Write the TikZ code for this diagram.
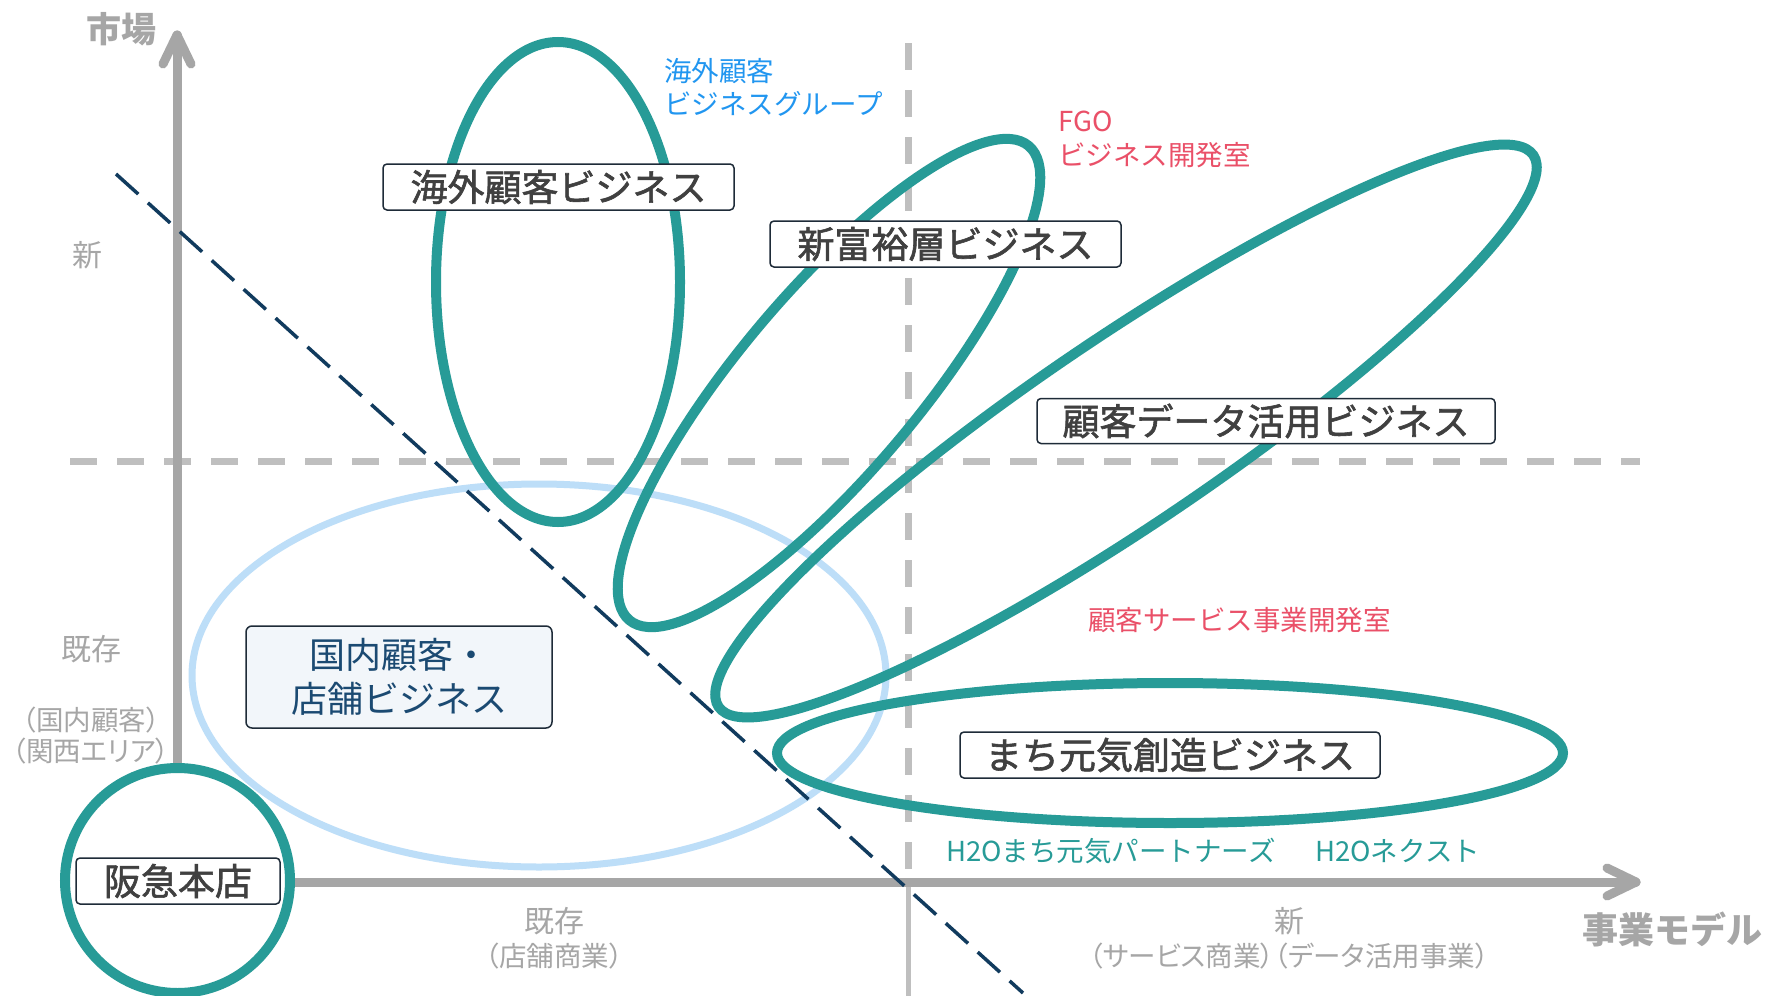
\documentclass[tikz,border=0pt]{standalone}
\usepackage{fontspec}
\setmainfont{Noto Sans CJK JP}
\newfontfamily\jpp{Noto Sans CJK JP}[RawFeature=+palt]
\newfontfamily\jpsemi{Noto Sans CJK JP}[FakeBold=1.6]
\definecolor{tealc}{HTML}{279B97}
\definecolor{lblue}{HTML}{BDDEF8}
\definecolor{navy}{HTML}{113B5E}
\definecolor{axisg}{HTML}{A6A6A6}
\definecolor{dashg}{HTML}{BFBFBF}
\definecolor{boxtext}{HTML}{404040}
\definecolor{boxline}{HTML}{1E2B38}
\definecolor{kntext}{HTML}{1B4A72}
\definecolor{knfill}{HTML}{F2F6FA}
\definecolor{bluelab}{HTML}{2196F0}
\definecolor{redlab}{HTML}{EA5068}
\begin{document}
\begin{tikzpicture}[x=1pt,y=-1pt,
  tealline/.style={draw=tealc, line width=10pt},
  gridline/.style={draw=dashg, line width=7pt, dash pattern=on 27pt off 20pt},
  axisline/.style={draw=axisg, line width=9pt, line cap=round, line join=round},
  bizbox/.style={draw=boxline, line width=1.5pt, rounded corners=4pt, fill=white,
    text=boxtext, font=\jpsemi\fontsize{37}{44}\selectfont, inner sep=0pt, minimum height=46pt},
  graylab/.style={text=axisg, inner sep=0pt, font=\fontsize{30}{36}\selectfont},
  graysub/.style={text=axisg, inner sep=0pt, font=\jpp\fontsize{27.5}{32}\selectfont},
  orglab/.style={inner sep=0pt, anchor=west, font=\fontsize{27.5}{32}\selectfont}]
\useasboundingbox (0,0) rectangle (1773,996);
\fill[white] (0,0) rectangle (1773,996);

% grid lines
\coordinate (hl) at (70,461);
\coordinate (hr) at (1640,461);
\coordinate (vt) at (908,43);
\coordinate (vm) at (908,882);
\coordinate (vb) at (908,996);
\draw[gridline] (hl) -- (hr);
\draw[gridline] (vt) -- (vm);
\draw[draw=dashg, line width=5pt] (vm) -- (vb);

% axes
\coordinate (vbot) at (177,880);
\coordinate (vtip) at (177,35);
\coordinate (vla) at (163,64);
\coordinate (vra) at (191,64);
\coordinate (hbeg) at (178,882);
\coordinate (htip) at (1636,882);
\coordinate (hua) at (1607,868);
\coordinate (hda) at (1607,896);
\draw[axisline] (vbot) -- (vtip);
\draw[axisline] (vla) -- (vtip) -- (vra);
\draw[axisline] (hbeg) -- (htip);
\draw[axisline] (hua) -- (htip) -- (hda);

% light blue ellipse
\draw[draw=lblue, line width=7pt] (539,675.5) ellipse [x radius=347, y radius=191.5];

% teal ellipses
\draw[tealline] (558,282) ellipse [x radius=122, y radius=240];
\draw[tealline, shift={(829,383)}, rotate=49.9] (0,0) ellipse [x radius=310, y radius=90];
\draw[tealline, shift={(1126,431)}, rotate=34.1] (0,0) ellipse [x radius=492, y radius=93];
\draw[tealline] (1170,753) ellipse [x radius=393, y radius=70];

% navy dashed diagonal
\coordinate (ds) at (116,174);
\coordinate (de) at (1023,993);
\draw[draw=navy, line width=3.5pt, dash pattern=on 30pt off 13pt] (ds) -- (de);

% Hankyu circle
\draw[tealline, fill=white] (177.5,880.5) circle [radius=112.5];

% boxes
\node[bizbox, minimum width=204pt] (hq) at (178,881) {阪急本店};
\node[bizbox, minimum width=351pt] (kaigai) at (558.5,187) {海外顧客ビジネス};
\node[bizbox, minimum width=351pt] (fuyu) at (945.5,244) {新富裕層ビジネス};
\node[bizbox, minimum width=458pt, minimum height=45pt] (data) at (1266,421) {顧客データ活用ビジネス};
\node[bizbox, minimum width=420pt] (machi) at (1170,755) {まち元気創造ビジネス};
\node[draw=boxline, line width=1.5pt, rounded corners=6pt, fill=knfill, text=kntext,
  font=\fontsize{36}{44}\selectfont, inner sep=0pt, align=center,
  minimum width=306pt, minimum height=102pt] (kokunai) at (399,677) {国内顧客・\\店舗ビジネス};

% axis labels
\node[text=axisg, inner sep=0pt, font=\bfseries\fontsize{35}{40}\selectfont] (market) at (121,29) {市場};
\node[text=axisg, inner sep=0pt, font=\bfseries\fontsize{36}{40}\selectfont] (model) at (1672.5,929.5) {事業モデル};
\node[graylab] (ynew) at (87,255) {新};
\node[graylab] (yold) at (91,649) {既存};
\node[graysub] (yold1) at (91,720) {（国内顧客）};
\node[graysub] (yold2) at (91,751) {（関西エリア）};
\node[graylab] (xold) at (554,921.5) {既存};
\node[graysub] (xold1) at (554,956.5) {（店舗商業）};
\node[graylab] (xnew) at (1289,921.5) {新};
\node[graysub] (xnew1) at (1289,956.5) {（サービス商業）（データ活用事業）};

% organisation labels
\node[orglab, text=bluelab] (og1) at (664,71) {海外顧客};
\node[orglab, text=bluelab] (og2) at (664,104) {ビジネスグループ};
\node[orglab, text=redlab] (fgo1) at (1058,121) {FGO};
\node[orglab, text=redlab] (fgo2) at (1058,155) {ビジネス開発室};
\node[orglab, anchor=center, text=redlab] (csd) at (1239.5,620) {顧客サービス事業開発室};
\node[orglab, text=tealc] (h2o1) at (946,851) {H2Oまち元気パートナーズ};
\node[orglab, text=tealc] (h2o2) at (1315,851) {H2Oネクスト};
\end{tikzpicture}
\end{document}
